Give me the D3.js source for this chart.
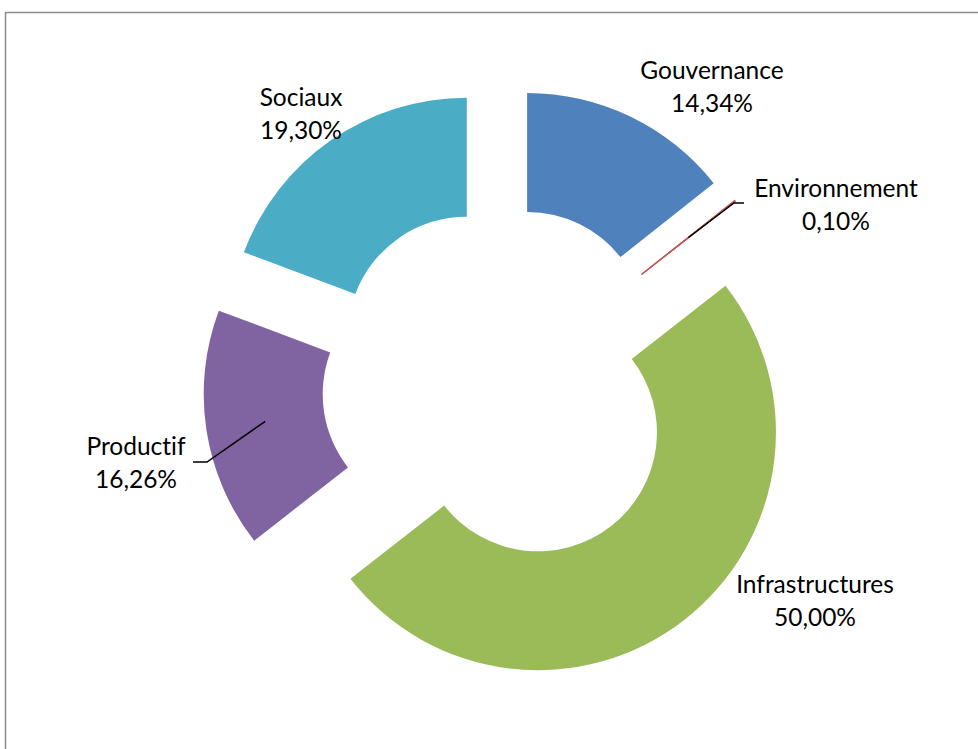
<!DOCTYPE html>
<html>
<head>
<meta charset="utf-8">
<script src="https://cdn.jsdelivr.net/npm/d3@7"></script>
<style>
  html, body { margin: 0; padding: 0; background: #fff; }
  svg { display: block; }
  text {
    font-family: Lato, "Open Sans", sans-serif;
    fill: #000;
    font-variant-ligatures: none;
    font-feature-settings: "liga" 0, "dlig" 0;
  }
</style>
</head>
<body>
<svg id="chart" width="978" height="749"></svg>
<script>
// Répartition par secteur
const categories = ["Gouvernance", "Environnement", "Infrastructures", "Productif", "Sociaux"];
const values = [14.34, 0.10, 50.00, 16.26, 19.30];
const valueLabels = ["14,34%", "0,10%", "50,00%", "16,26%", "19,30%"];
const colors = ["#4F81BD", "#C0504D", "#9BBB59", "#8064A2", "#4BACC6"];

// label anchor (first baseline of the two-line label) and optional leader elbow
const labelPos = [
  { x: 712, y: 79 },
  { x: 836, y: 197, elbow: [734, 203], end: [744, 203] },
  { x: 815, y: 593 },
  { x: 136, y: 455, elbow: [207, 462], end: [193, 462] },
  { x: 301, y: 106 }
];

const W = 978, H = 749;
const cx = 501, cy = 385;
const outerR = 238, innerR = 119, explode = 60;
const fontSize = 24.5;

const svg = d3.select("#chart");

// chart area frame
svg.append("rect")
  .attr("x", 5.5).attr("y", 12.5)
  .attr("width", W).attr("height", H)
  .attr("fill", "none")
  .attr("stroke", "#8a8a8a")
  .attr("stroke-width", 1.5);

const data = categories.map((c, i) => ({ name: c, value: values[i], label: valueLabels[i], color: colors[i], pos: labelPos[i] }));

const pie = d3.pie().sort(null).value(d => d.value).startAngle(0).endAngle(2 * Math.PI);
const arcs = pie(data);
const arc = d3.arc().innerRadius(innerR).outerRadius(outerR);

const g = svg.append("g").attr("transform", `translate(${cx},${cy})`);

function offset(a) {
  const mid = (a.startAngle + a.endAngle) / 2;
  return [Math.sin(mid) * explode, -Math.cos(mid) * explode];
}

g.selectAll("path.slice")
  .data(arcs)
  .join("path")
  .attr("class", "slice")
  .attr("transform", d => { const o = offset(d); return `translate(${o[0]},${o[1]})`; })
  .attr("d", arc)
  .attr("fill", d => d.data.color)
  .attr("stroke", d => d.data.color)
  .attr("stroke-width", d => (d.endAngle - d.startAngle) < 0.02 ? 1 : 0);

// leader lines from the slice centroid to the label
arcs.filter(d => d.data.pos.elbow).forEach(d => {
  const o = offset(d);
  const c = arc.centroid(d);
  const p0 = [cx + c[0] + o[0], cy + c[1] + o[1]];
  const pts = [p0, d.data.pos.elbow, d.data.pos.end];
  svg.append("path")
    .attr("d", d3.line()(pts))
    .attr("fill", "none")
    .attr("stroke", "#000")
    .attr("stroke-width", 1.5);
});

// labels
const lab = svg.selectAll("g.lab").data(arcs).join("g").attr("class", "lab");
lab.append("text")
  .attr("x", d => d.data.pos.x)
  .attr("y", d => d.data.pos.y)
  .attr("text-anchor", "middle")
  .attr("font-size", fontSize)
  .text(d => d.data.name);
lab.append("text")
  .attr("x", d => d.data.pos.x)
  .attr("y", d => d.data.pos.y + 33)
  .attr("text-anchor", "middle")
  .attr("font-size", fontSize)
  .text(d => d.data.label);
</script>
</body>
</html>
